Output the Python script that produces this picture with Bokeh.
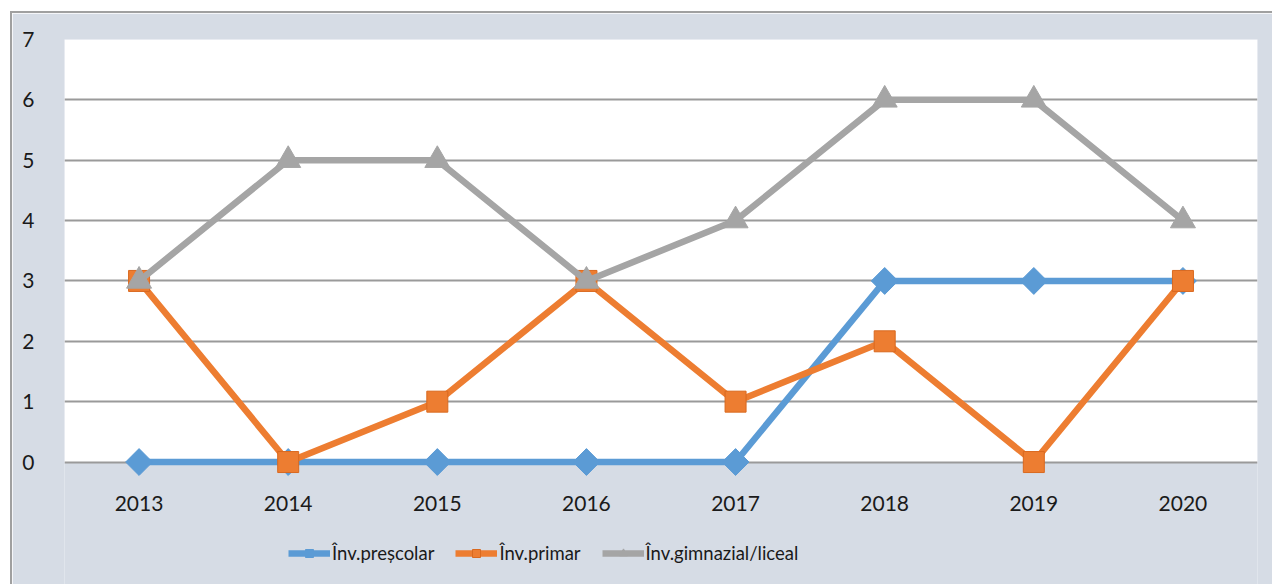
import math
from bokeh.plotting import figure
from bokeh.models import Legend, LegendItem, FixedTicker, Range1d, BoxAnnotation
from bokeh.embed import file_html
from bokeh.resources import INLINE

years = [2013, 2014, 2015, 2016, 2017, 2018, 2019, 2020]
prescolar = [0, 0, 0, 0, 0, 3, 3, 3]
primar = [3, 0, 1, 3, 1, 2, 0, 3]
gimnazial = [3, 5, 5, 3, 4, 6, 6, 4]
y_ticks = [0, 1, 2, 3, 4, 5, 6, 7]
labels = ["Înv.preșcolar", "Înv.primar", "Înv.gimnazial/liceal"]

BG = "#D6DCE5"
FONT = "Lato"

p = figure(width=1262, height=573, output_backend="svg", toolbar_location=None,
           x_range=Range1d(2012.5, 2020.5), y_range=Range1d(-2.062, 7),
           min_border_left=52, min_border_right=17, min_border_top=26, min_border_bottom=0)
p.margin = (11, 0, 0, 10)
p.background_fill_color = BG
p.border_fill_color = BG
p.outline_line_color = None
p.styles = {"border-left": "2px solid #A0A0A0", "border-top": "2px solid #A0A0A0",
            "box-sizing": "border-box"}

# white plot area between 0 and 7
p.add_layout(BoxAnnotation(bottom=0, top=7, fill_color="white", fill_alpha=1,
                           line_color=None, level="image"))

p.xgrid.grid_line_color = None
p.ygrid.grid_line_color = "#9A9A9A"
p.ygrid.grid_line_width = 2
p.ygrid.ticker = FixedTicker(ticks=y_ticks)

p.xaxis.ticker = FixedTicker(ticks=years)
p.xaxis.fixed_location = 0
p.yaxis.ticker = FixedTicker(ticks=y_ticks)
for ax in (p.xaxis, p.yaxis):
    ax.axis_line_color = None
    ax.major_tick_line_color = None
    ax.minor_tick_line_color = None
    ax.major_label_text_font = FONT
    ax.major_label_text_font_size = "21px"
    ax.major_label_text_color = "#1A1A1A"
p.xaxis.major_label_standoff = 28
p.yaxis.major_label_standoff = 24

blue, orange, grey = "#5B9BD5", "#ED7D31", "#A5A5A5"

l1 = p.line(years, prescolar, line_color=blue, line_width=6.5)
m1 = p.scatter(years, prescolar, marker="square", angle=math.pi / 4, size=19,
               fill_color=blue, line_color=blue)
l2 = p.line(years, primar, line_color=orange, line_width=6.5)
m2 = p.scatter(years, primar, marker="square", size=21,
               fill_color=orange, line_color="#D9691F", line_width=1)
l3 = p.line(years, gimnazial, line_color=grey, line_width=6.5)
m3 = p.scatter(years, gimnazial, marker="triangle", size=25,
               fill_color=grey, line_color=grey)

legend = Legend(items=[
    LegendItem(label=labels[0], renderers=[l1, m1]),
    LegendItem(label=labels[1], renderers=[l2, m2]),
    LegendItem(label=labels[2], renderers=[l3, m3]),
], orientation="horizontal", location=(224, 22))
legend.background_fill_alpha = 0
legend.border_line_color = None
legend.padding = 0
legend.margin = 0
legend.spacing = 21
legend.glyph_width = 42
legend.glyph_height = 20
legend.label_standoff = 2
legend.label_text_font = FONT
legend.label_text_font_size = "18.5px"
legend.label_text_color = "#1A1A1A"
p.add_layout(legend, "center")

open("out.html", "w").write(file_html(p, INLINE))
